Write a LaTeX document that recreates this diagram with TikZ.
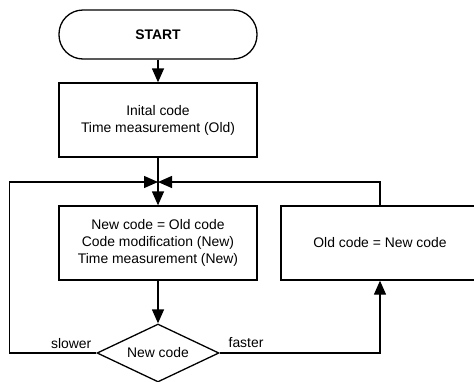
\documentclass[tikz,border=0pt]{standalone}
\usepackage{fontspec}
\setmainfont{Liberation Sans}
\usetikzlibrary{shapes.geometric,arrows.meta}
\begin{document}
\begin{tikzpicture}[x=1pt,y=-1pt,
  line width=1.3pt,
  every node/.style={font=\fontsize{13.9}{17}\selectfont},
  procbox/.style={draw,align=center,minimum width=198pt,minimum height=74pt,inner sep=0pt},
  termbox/.style={draw,rounded corners=24pt,minimum width=198pt,minimum height=49pt,inner sep=0pt,font=\fontsize{13.9}{17}\selectfont\bfseries},
  decbox/.style={draw,diamond,aspect=2.1,minimum width=122pt,minimum height=58pt,inner sep=0pt},
  arr/.style={-{Triangle[length=14pt,width=12pt]}},
  lbl/.style={inner sep=0pt}]
\useasboundingbox (0,0) rectangle (474,381);

\node[termbox] (start) at (158,34.5) {START};
\node[procbox] (init) at (158,120) {Inital code\\Time measurement (Old)};
\node[procbox] (modify) at (158,243) {New code = Old code\\Code modification (New)\\Time measurement (New)};
\node[procbox] (update) at (380,243) {Old code = New code};
\node[decbox] (cmp) at (158,353) {New code};
\coordinate (join) at (158,182);

\node[lbl,anchor=east] (slow) at (92,344) {slower};
\node[lbl,anchor=west] (fast) at (228,343) {faster};

\draw[arr] (start) -- (init);
\draw[arr] (init) -- (modify);
\draw[arr] (modify) -- (cmp);
\draw[arr] (cmp.west) -- ++(-87,0) |- (join);
\draw[arr] (cmp.east) -| (update.south);
\draw[arr] (update.north) |- (join);
\end{tikzpicture}
\end{document}
